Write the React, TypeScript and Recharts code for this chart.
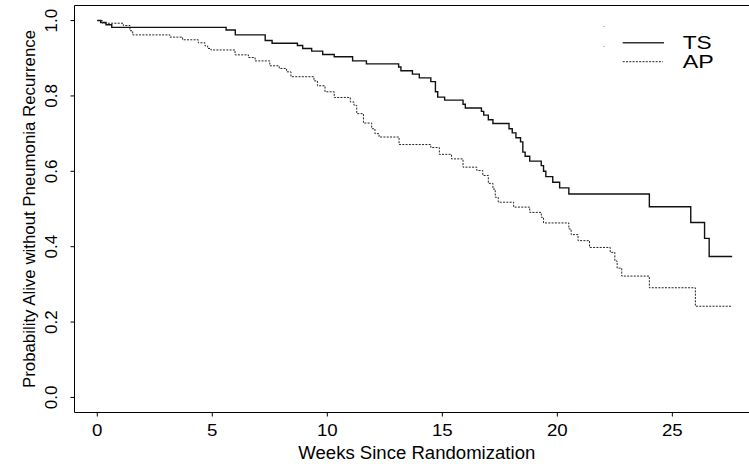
import { LineChart, Line, XAxis, YAxis, ReferenceLine, Legend } from 'recharts';

// Kaplan-Meier estimates (weeks, survival probability)
const tsTimes = [0, 0.15, 0.38, 0.63, 5.6, 6.0, 7.3, 7.6, 8.7, 8.93, 9.32, 9.8, 10.3, 11.1, 11.7, 13.1, 13.2, 13.7, 14.0, 14.5, 14.7, 14.8, 15.1, 15.9, 16.0, 16.7, 16.8, 17.0, 17.2, 17.9, 18.04, 18.2, 18.4, 18.5, 18.6, 18.8, 19.3, 19.4, 19.5, 19.8, 20.1, 20.5, 24.0, 25.8, 26.4, 26.6, 27.6];
const tsSurv = [1, 0.995, 0.989, 0.982, 0.975, 0.962, 0.947, 0.94, 0.934, 0.926, 0.919, 0.91, 0.904, 0.893, 0.885, 0.877, 0.867, 0.858, 0.848, 0.838, 0.811, 0.797, 0.789, 0.778, 0.768, 0.759, 0.749, 0.737, 0.727, 0.713, 0.702, 0.689, 0.678, 0.651, 0.64, 0.627, 0.615, 0.6, 0.586, 0.571, 0.556, 0.54, 0.506, 0.464, 0.422, 0.374, 0.374];

const apTimes = [0, 0.23, 1.13, 1.42, 1.54, 3.16, 3.71, 4.39, 4.68, 4.8, 4.94, 5.99, 6.57, 6.86, 7.5, 7.91, 8.23, 8.42, 9.42, 9.57, 9.9, 10.3, 11.0, 11.16, 11.28, 11.57, 11.93, 12.07, 12.25, 13.12, 14.5, 14.87, 15.4, 15.9, 16.5, 16.76, 17.0, 17.2, 17.3, 17.43, 18.1, 18.8, 19.3, 19.4, 20.5, 20.6, 20.9, 21.4, 22.3, 22.5, 22.6, 22.8, 24.0, 26.0, 27.6];
const apSurv = [1, 0.993, 0.987, 0.973, 0.962, 0.956, 0.949, 0.941, 0.933, 0.926, 0.922, 0.909, 0.902, 0.893, 0.88, 0.873, 0.864, 0.851, 0.84, 0.827, 0.811, 0.796, 0.784, 0.775, 0.753, 0.728, 0.713, 0.7, 0.691, 0.671, 0.663, 0.645, 0.633, 0.611, 0.602, 0.589, 0.568, 0.553, 0.531, 0.518, 0.505, 0.491, 0.478, 0.463, 0.447, 0.432, 0.416, 0.398, 0.385, 0.362, 0.343, 0.322, 0.291, 0.242, 0.242];

const xTicks = [0, 5, 10, 15, 20, 25];
const yTicks = [0, 0.2, 0.4, 0.6, 0.8, 1.0];

const FONT = '"Liberation Sans", Arial, Helvetica, sans-serif';

const tsData = tsTimes.map((t, i) => ({ t, s: tsSurv[i] }));
const apData = apTimes.map((t, i) => ({ t, s: apSurv[i] }));

function XTick({ x, payload }: any) {
  return (
    <g transform={`translate(${x} 436) scale(1.1 1)`}>
      <text x={0} y={0} textAnchor="middle" fontSize={17} fontFamily={FONT} fill="#000">
        {payload.value}
      </text>
    </g>
  );
}

function YTick({ y, payload }: any) {
  return (
    <text
      x={57}
      y={y}
      transform={`rotate(-90 57 ${y})`}
      textAnchor="middle"
      fontSize={17}
      fontFamily={FONT}
      fill="#000"
    >
      {Number(payload.value).toFixed(1)}
    </text>
  );
}

function XTitle() {
  return (
    <text x={298.3} y={458.7} fontSize={17.5} fontFamily={FONT} fill="#000" textLength={237} lengthAdjust="spacingAndGlyphs">
      Weeks Since Randomization
    </text>
  );
}

function YTitle() {
  return (
    <text
      x={35}
      y={209}
      transform="rotate(-90 35 209)"
      textAnchor="middle"
      fontSize={17}
      fontFamily={FONT}
      fill="#000"
      textLength={358}
      lengthAdjust="spacingAndGlyphs"
    >
      Probability Alive without Pneumonia Recurrence
    </text>
  );
}

function KmLegend() {
  return (
    <svg width={120} height={55} style={{ display: 'block' }}>
      <rect x={3.5} y={6} width={1} height={1} fill="#888" />
      <rect x={3.5} y={26} width={1} height={1} fill="#888" />
      <line x1={22.7} x2={64} y1={22.7} y2={22.7} stroke="#333" strokeWidth={1.5} />
      <text x={82.7} y={29.3} fontSize={18.5} fontFamily={FONT} fill="#000" textLength={29} lengthAdjust="spacingAndGlyphs">TS</text>
      <line x1={22.7} x2={63} y1={41.7} y2={41.7} stroke="#222" strokeWidth={1} strokeDasharray="2 1.3" />
      <text x={82.7} y={48.3} fontSize={18.5} fontFamily={FONT} fill="#000" textLength={31} lengthAdjust="spacingAndGlyphs">AP</text>
    </svg>
  );
}

export default function App() {
  return (
    <div style={{ position: 'absolute', left: 0, top: 0, width: 749, height: 464, overflow: 'hidden', background: '#fff' }}>
      <LineChart width={770} height={464} margin={{ top: 5.5, right: 10, bottom: 0, left: 0 }}>
        <XAxis
          dataKey="t"
          type="number"
          domain={[-0.99, 28.81]}
          allowDataOverflow
          ticks={xTicks}
          tick={<XTick />}
          tickSize={4}
          height={51.5}
          axisLine={{ stroke: '#000', strokeWidth: 1 }}
          tickLine={{ stroke: '#000', strokeWidth: 1 }}
          label={<XTitle />}
        />
        <YAxis
          dataKey="s"
          type="number"
          domain={[-0.04, 1.04]}
          allowDataOverflow
          ticks={yTicks}
          tick={<YTick />}
          tickSize={4}
          width={74.5}
          axisLine={{ stroke: '#000', strokeWidth: 1 }}
          tickLine={{ stroke: '#000', strokeWidth: 1 }}
          label={<YTitle />}
        />
        <ReferenceLine y={1.04} stroke="#000" strokeWidth={1} />
        <Legend
          layout="vertical"
          align="center"
          verticalAlign="middle"
          wrapperStyle={{ left: 600, top: 20, width: 120, height: 55 }}
          content={() => <KmLegend />}
        />
        <Line
          data={tsData}
          dataKey="s"
          name="TS"
          type="stepAfter"
          stroke="#111"
          strokeWidth={1.4}
          dot={false}
          isAnimationActive={false}
        />
        <Line
          data={apData}
          dataKey="s"
          name="AP"
          type="stepAfter"
          stroke="#222"
          strokeWidth={1}
          strokeDasharray="2 1.3"
          dot={false}
          isAnimationActive={false}
        />
      </LineChart>
    </div>
  );
}
